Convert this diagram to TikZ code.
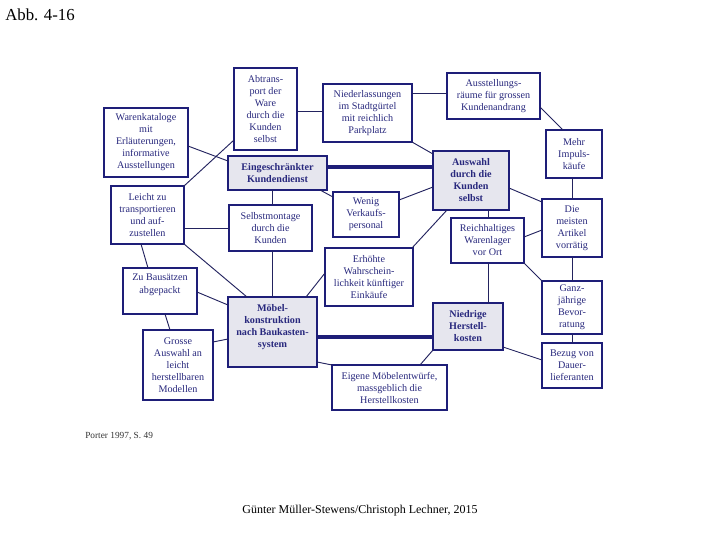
\documentclass[tikz,border=0pt]{standalone}
\usepackage{fontspec}
\setmainfont{Liberation Serif}
\usetikzlibrary{calc}
\definecolor{navyb}{RGB}{30,30,120}
\definecolor{navyt}{RGB}{40,40,125}
\definecolor{linec}{RGB}{35,35,95}
\definecolor{mainfill}{RGB}{230,230,238}
\newcommand{\mkbox}[7]{%
  \node[#6, minimum width={(#4-#2)*0.75pt}, minimum height={(#5-#3)*0.75pt}]
    (#1) at ({(#2+#4)/2},{(#3+#5)/2}) {#7};}
\begin{document}
\begin{tikzpicture}[x=0.75pt,y=-0.75pt,
  boxa/.style={draw=navyb, line width=0.9pt, fill=white, align=center,
    text=navyt, inner sep=0pt, outer sep=0pt,
    font=\fontsize{7.6}{9}\selectfont},
  boxm/.style={boxa, line width=1.9pt, fill=mainfill,
    font=\fontsize{7.6}{9}\selectfont\bfseries},
  conn/.style={draw=linec, line width=0.7pt},
  heavy/.style={draw=navyb, line width=3.2pt}]
\useasboundingbox (0,0) rectangle (720,540);
\node[anchor=base west, inner sep=0pt, font=\fontsize{12.6}{15}\selectfont] (title) at (5,20) {Abb. 4-16};
\node[anchor=base west, inner sep=0pt, font=\fontsize{7}{8}\selectfont, text=black!80] (src) at (85,438) {Porter 1997, S. 49};
\node[anchor=base, inner sep=0pt, font=\fontsize{9}{10}\selectfont] (auth) at (360,513) {Günter Müller-Stewens/Christoph Lechner, 2015};

% boxes
\mkbox{abtr}{234}{68}{297}{150}{boxa}{Abtrans-\\port der\\Ware\\durch die\\Kunden\\selbst}
\mkbox{nieder}{323}{84}{412}{142}{boxa}{Niederlassungen\\im Stadtgürtel\\mit reichlich\\Parkplatz}
\mkbox{ausst}{447}{73}{540}{119}{boxa}{Ausstellungs-\\räume für grossen\\Kundenandrang}
\mkbox{waren}{104}{108}{188}{177}{boxa}{Warenkataloge\\mit\\Erläuterungen,\\informative\\Ausstellungen}
\mkbox{eing}{228}{156}{327}{190}{boxm}{Eingeschränkter\\Kundendienst}
\mkbox{auswahl}{433}{151}{509}{210}{boxm}{Auswahl\\durch die\\Kunden\\selbst}
\mkbox{mehr}{546}{130}{602}{178}{boxa}{Mehr\\Impuls-\\käufe}
\mkbox{leicht}{111}{186}{184}{244}{boxa}{Leicht zu\\transportieren\\und auf-\\zustellen}
\mkbox{selbst}{229}{205}{312}{251}{boxa}{Selbstmontage\\durch die\\Kunden}
\mkbox{wenig}{333}{192}{399}{237}{boxa}{Wenig\\Verkaufs-\\personal}
\mkbox{reich}{451}{218}{524}{263}{boxa}{Reichhaltiges\\Warenlager\\vor Ort}
\mkbox{meisten}{542}{199}{602}{257}{boxa}{Die\\meisten\\Artikel\\vorrätig}
\mkbox{erh}{325}{248}{413}{306}{boxa}{Erhöhte\\Wahrschein-\\lichkeit künftiger\\Einkäufe}
\mkbox{zu}{123}{268}{197}{314}{boxa}{Zu Bausätzen\\[1pt]abgepackt\\[2pt]\mbox{}}
\mkbox{grosse}{143}{330}{213}{400}{boxa}{Grosse\\Auswahl an\\leicht\\herstellbaren\\Modellen}
\mkbox{moebel}{228}{297}{317}{367}{boxm}{Möbel-\\konstruktion\\nach Baukasten-\\system\\\mbox{}}
\mkbox{niedrig}{433}{303}{503}{350}{boxm}{Niedrige\\Herstell-\\kosten}
\mkbox{ganz}{542}{281}{602}{334}{boxa}{Ganz-\\jährige\\Bevor-\\ratung}
\mkbox{bezug}{542}{343}{602}{388}{boxa}{Bezug von\\Dauer-\\lieferanten}
\mkbox{eigene}{332}{365}{447}{410}{boxa}{Eigene Möbelentwürfe,\\massgeblich die\\Herstellkosten}

% heavy connectors
\draw[heavy] (eing.east |- 0,167) -- (auswahl.west |- 0,167);
\draw[heavy] (moebel.east |- 0,337) -- (niedrig.west |- 0,337);

% thin connectors
\draw[conn] (waren.east |- 0,146) -- (eing.west |- 0,161);
\draw[conn] (leicht.north east) -- (abtr.west |- 0,140);
\draw[conn] (abtr.east |- 0,111) -- (nieder.west |- 0,111);
\draw[conn] (nieder.east |- 0,93) -- (ausst.west |- 0,93);
\draw[conn] (nieder.south east) -- (auswahl.west |- 0,154);
\draw[conn] (ausst.east |- 0,107) -- (563,0 |- mehr.north);
\draw[conn] (572,0 |- mehr.south) -- (572,0 |- meisten.north);
\draw[conn] (auswahl.east |- 0,188) -- (meisten.west |- 0,202);
\draw[conn] (488,0 |- auswahl.south) -- (488,0 |- reich.north);
\draw[conn] (auswahl.west |- 0,187) -- (wenig.east |- 0,200);
\draw[conn] (320,0 |- eing.south) -- (wenig.west |- 0,197);
\draw[conn] (272,0 |- eing.south) -- (272,0 |- selbst.north);
\draw[conn] (447,0 |- auswahl.south) -- (412,0 |- erh.north);
\draw[conn] (reich.east |- 0,237) -- (meisten.west |- 0,230);
\draw[conn] (reich.south east) -- (ganz.north west);
\draw[conn] (572,0 |- meisten.south) -- (572,0 |- ganz.north);
\draw[conn] (572,0 |- ganz.south) -- (572,0 |- bezug.north);
\draw[conn] (488,0 |- reich.south) -- (488,0 |- niedrig.north);
\draw[conn] (niedrig.east |- 0,347) -- (bezug.west |- 0,360);
\draw[conn] (niedrig.south west) -- (420,0 |- eigene.north);
\draw[conn] (moebel.east |- 0,362) -- (eigene.north west);
\draw[conn] (272,0 |- selbst.south) -- (272,0 |- moebel.north);
\draw[conn] (leicht.east |- 0,228) -- (selbst.west |- 0,228);
\draw[conn] (leicht.south east) -- (247,0 |- moebel.north);
\draw[conn] (141,0 |- leicht.south) -- (148,0 |- zu.north);
\draw[conn] (zu.east |- 0,292) -- (moebel.west |- 0,305);
\draw[conn] (165,0 |- zu.south) -- (170,0 |- grosse.north);
\draw[conn] (grosse.east |- 0,342) -- (moebel.west |- 0,339);
\draw[conn] (erh.west |- 0,273) -- (306,0 |- moebel.north);
\end{tikzpicture}
\end{document}
